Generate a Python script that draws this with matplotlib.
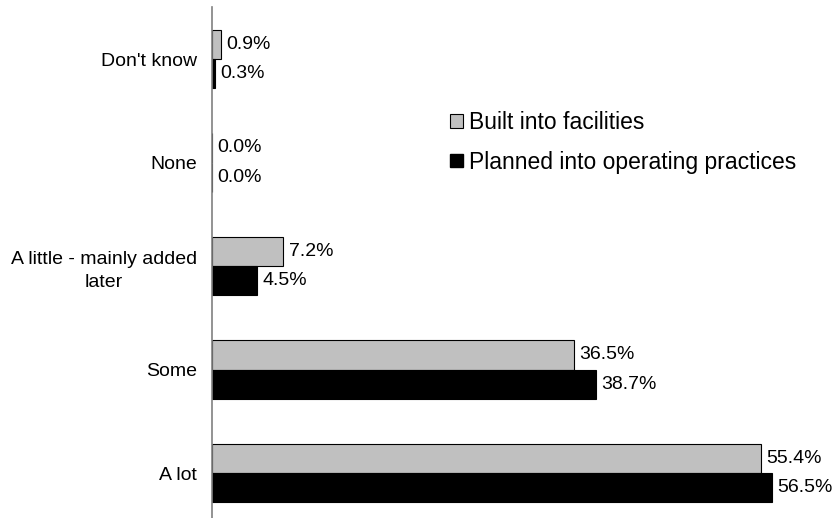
import matplotlib
matplotlib.use("Agg")
import matplotlib.pyplot as plt
import numpy as np
from matplotlib.patches import Patch

plt.rcParams["font.family"] = ["Liberation Sans", "DejaVu Sans"]

categories = ["Don't know", "None", "A little - mainly added\nlater", "Some", "A lot"]
built = [0.9, 0.0, 7.2, 36.5, 55.4]
planned = [0.3, 0.0, 4.5, 38.7, 56.5]
series_names = ["Built into facilities", "Planned into operating practices"]

fig = plt.figure(figsize=(8.4, 5.18), dpi=100)
# axes: x=0 at px 212, ~9.91 px per %; category rows ~103.5 px apart
ax = fig.add_axes([212 / 840, -6.75 / 518, 594.6 / 840, 517.5 / 518])

y = np.arange(len(categories))
h = 0.285
ax.barh(y - h / 2, built, height=h, color="#c0c0c0", edgecolor="black", linewidth=0.8)
ax.barh(y + h / 2, planned, height=h, color="black", edgecolor="black", linewidth=0.8)

for i in range(len(categories)):
    ax.text(built[i] + 0.55, y[i] - h / 2, f"{built[i]:.1f}%", va="center", ha="left", fontsize=14)
    ax.text(planned[i] + 0.55, y[i] + h / 2, f"{planned[i]:.1f}%", va="center", ha="left", fontsize=14)

ax.set_xlim(0, 60)
ax.set_ylim(4.5, -0.5)
ax.set_yticks(y)
ax.set_yticklabels(categories, fontsize=14, multialignment="center", linespacing=1.45)
ax.tick_params(axis="y", length=0, pad=11)
ax.set_xticks([])
for s in ["top", "right", "bottom"]:
    ax.spines[s].set_visible(False)
ax.spines["left"].set_color("#808080")
ax.spines["left"].set_linewidth(1.2)

handles = [Patch(facecolor="#c0c0c0", edgecolor="black", linewidth=0.8),
           Patch(facecolor="black", edgecolor="black")]
fig.legend(handles, series_names, loc="center left", bbox_to_anchor=(450 / 840, 1 - 142.5 / 518),
           frameon=False, fontsize=16.5, handlelength=0.55, handleheight=0.55, handletextpad=0.3,
           labelspacing=0.7, borderaxespad=0, borderpad=0)

fig.savefig("out.png", dpi=100)
